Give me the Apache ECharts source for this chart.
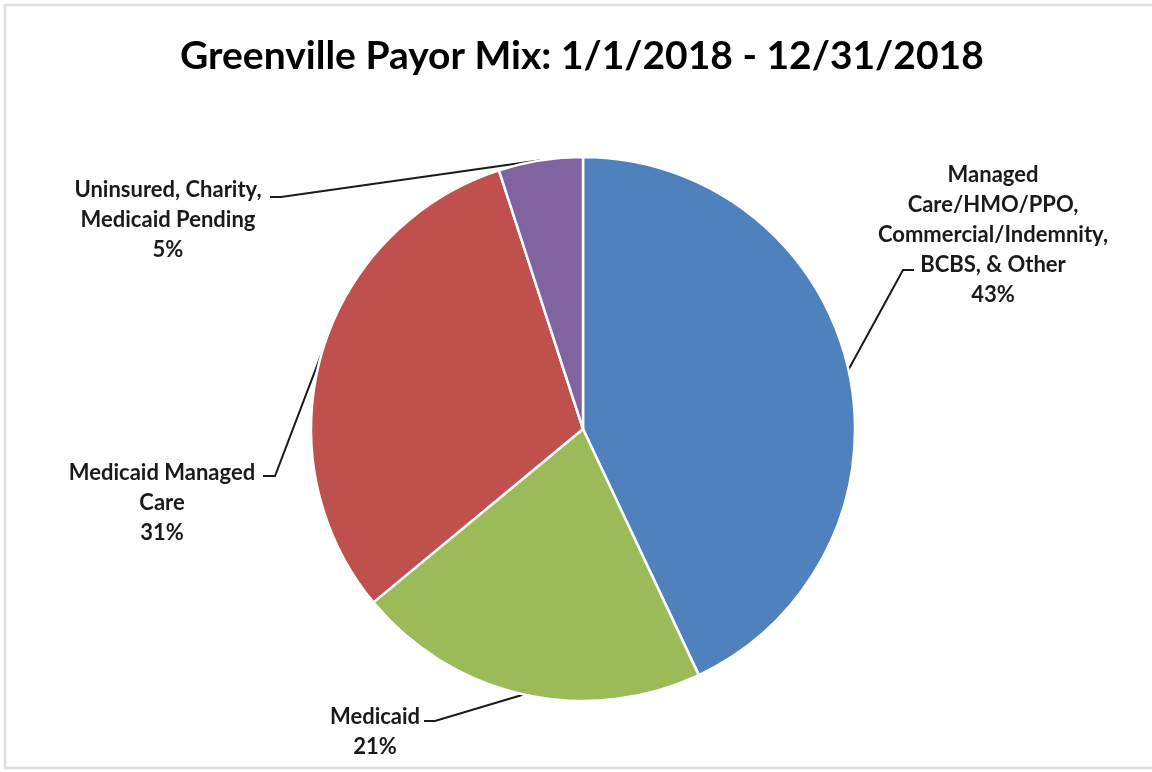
<!DOCTYPE html>
<html>
<head>
<meta charset="utf-8">
<title>Greenville Payor Mix</title>
<script src="https://cdn.jsdelivr.net/npm/echarts@6/dist/echarts.min.js"></script>
<style>
  html, body { margin: 0; padding: 0; background: #ffffff; }
  #chart { width: 1152px; height: 772px; }
</style>
</head>
<body>
<div id="chart"></div>
<script>
// Payor categories (clockwise from 12 o'clock) and their share of the total, in percent
const categories = [
  'Managed\nCare/HMO/PPO,\nCommercial/Indemnity,\nBCBS, & Other',
  'Medicaid',
  'Medicaid Managed\nCare',
  'Uninsured, Charity,\nMedicaid Pending'
];
const shares = [43, 21, 31, 5];
const sliceColors = ['#4F81BD', '#9BBB59', '#C0504D', '#8064A2'];
const titleText = 'Greenville Payor Mix: 1/1/2018 - 12/31/2018';

const FONT = 'Lato, "Open Sans", "Liberation Sans", sans-serif';

// Where each callout sits: text anchor (centre-top), leader elbow, and stub end
const callouts = [
  { x: 993, y: 160, elbow: [903, 270], stub: [914, 270] },
  { x: 375, y: 702, elbow: [435, 721], stub: [424, 721] },
  { x: 162, y: 458, elbow: [275, 476], stub: [263, 476] },
  { x: 168, y: 175, elbow: [281, 197], stub: [270, 197] }
];

const chart = echarts.init(document.getElementById('chart'), null, { renderer: 'canvas' });

chart.setOption({
  animation: false,
  backgroundColor: '#ffffff',
  title: {
    text: titleText,
    left: 175,
    top: 32,
    textStyle: { fontFamily: FONT, fontWeight: 'bold', fontSize: 39, color: '#000000' }
  },
  graphic: [{
    type: 'rect',
    shape: { x: 5, y: 5, width: 1160, height: 763 },
    style: { fill: 'none', stroke: '#dedede', lineWidth: 2.5 },
    silent: true
  }],
  series: [{
    type: 'pie',
    center: [583, 429],
    radius: 272,
    startAngle: 90,
    clockwise: true,
    avoidLabelOverlap: false,
    data: categories.map((name, i) => ({ name, value: shares[i], itemStyle: { color: sliceColors[i] } })),
    itemStyle: { borderColor: '#ffffff', borderWidth: 2.5 },
    emphasis: { disabled: true },
    label: {
      show: true,
      position: 'outside',
      formatter: '{b}\n{c}%',
      fontFamily: FONT,
      fontWeight: 'bold',
      fontSize: 22,
      lineHeight: 30,
      color: '#1a1a1a',
      align: 'center'
    },
    labelLine: {
      show: true,
      lineStyle: { color: '#1a1a1a', width: 2 }
    },
    labelLayout: function (params) {
      const c = callouts[params.dataIndex];
      const start = params.labelLinePoints ? params.labelLinePoints[0] : c.elbow;
      return {
        x: c.x,
        y: c.y,
        align: 'center',
        verticalAlign: 'top',
        labelLinePoints: [start, c.elbow, c.stub]
      };
    }
  }]
});
</script>
</body>
</html>
